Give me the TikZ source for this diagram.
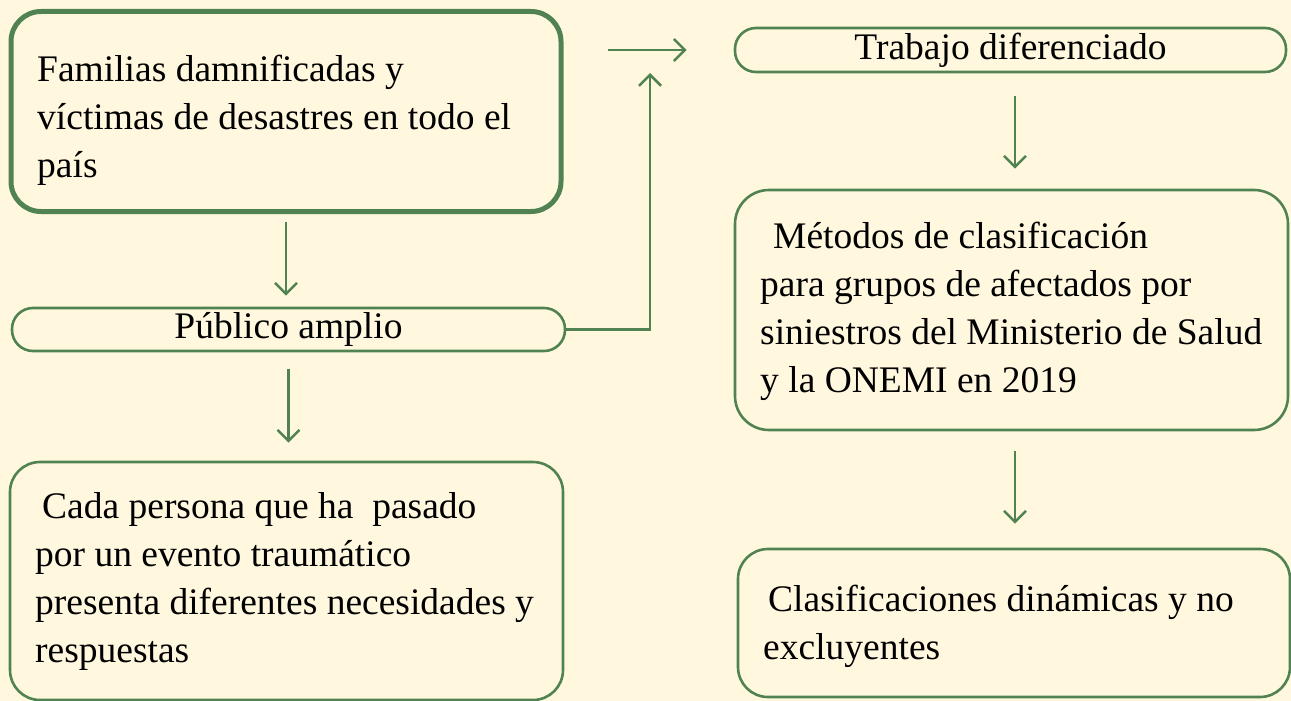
\documentclass[tikz,border=0pt]{standalone}
\usepackage{fontspec}
\setmainfont{Liberation Serif}
\usetikzlibrary{arrows.meta,calc}
\definecolor{bg}{RGB}{255,248,223}
\definecolor{gr}{RGB}{80,130,84}
\begin{document}
\begin{tikzpicture}[x=1pt,y=-1pt,
  boxshape/.style={draw=gr, line width=2.6pt, rounded corners=30pt, minimum width=#1, inner sep=0pt},
  pill/.style={draw=gr, line width=2.6pt, rounded corners=21pt, inner sep=0pt, font=\fontsize{37.5}{48}\selectfont},
  txt/.style={anchor=west, align=left, inner sep=0pt, font=\fontsize{37.5}{48}\selectfont},
  arr/.style={draw=gr, line width=2.6pt, -{Straight Barb[length=11pt,width=22pt]}}]
\fill[bg] (0,0) rectangle (1291,701);
\useasboundingbox (0,0) rectangle (1291,701);
% left column
\node[boxshape=550pt, line width=5pt, minimum height=200pt] (fam) at (286,111.5) {};
\node[txt] (famt) at (37,120) {Familias damnificadas y\\víctimas de desastres en todo el\\país};
\node[pill, minimum width=553pt, minimum height=43pt] (pub) at (288.5,329.5) {Público amplio};
\node[boxshape=553pt, minimum height=238pt] (cada) at (286.5,581) {};
\node[txt] (cadat) at (35,581) {\hspace*{7pt}Cada persona que ha\ \ pasado\\por un evento traumático\\presenta diferentes necesidades y\\respuestas};
% right column
\node[pill, minimum width=551pt, minimum height=44pt] (trab) at (1010.5,50) {Trabajo diferenciado};
\node[boxshape=553pt, minimum height=240pt, rounded corners=34pt] (met) at (1011.5,310) {};
\node[txt] (mett) at (760,311) {\hspace*{13pt}Métodos de clasificación\\para grupos de afectados por\\siniestros del Ministerio de Salud\\y la ONEMI en 2019};
\node[boxshape=552pt, minimum height=148pt] (clas) at (1014,623) {};
\node[txt] (clast) at (763,626) {\hspace*{5pt}Clasificaciones dinámicas y no\\excluyentes};
% connectors
\draw[arr, shorten <=8pt, shorten >=11pt] (fam.south) -- (fam.south |- pub.north);
\draw[arr, shorten <=17pt, shorten >=18pt] (pub.south) -- (pub.south |- cada.north);
\coordinate (up) at (650,73);
\draw[arr] (pub.east) -| (up);
\coordinate (hs) at (608,50);
\draw[arr, shorten >=47pt] (hs) -- (hs -| trab.west);
\coordinate (c1) at (1015,0);
\draw[arr, shorten <=23pt, shorten >=20pt] (c1 |- trab.south) -- (c1 |- met.north);
\draw[arr, shorten <=20pt, shorten >=24pt] (c1 |- met.south) -- (c1 |- clas.north);
\end{tikzpicture}
\end{document}
